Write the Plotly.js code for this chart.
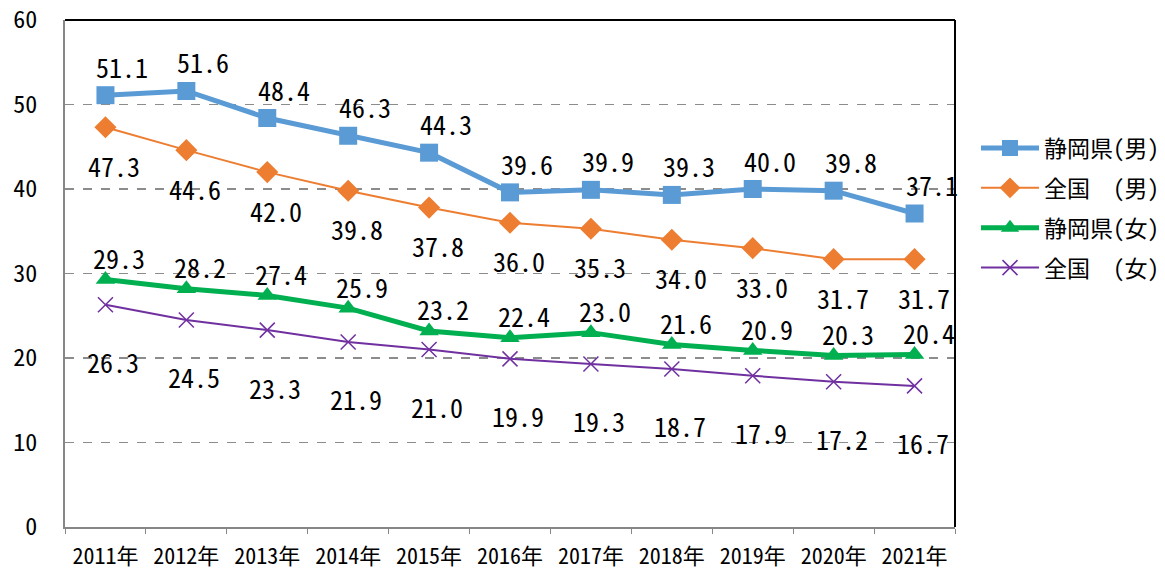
<!DOCTYPE html>
<html>
<head>
<meta charset="utf-8">
<script src="https://cdn.plot.ly/plotly-3.0.1.min.js"></script>
<style>html,body{margin:0;padding:0;background:#fff;}#chart{width:1165px;height:571px;}</style>
</head>
<body>
<div id="chart"></div>
<script>
const years = ["2011年","2012年","2013年","2014年","2015年","2016年","2017年","2018年","2019年","2020年","2021年"];
const shizuokaMale = [51.1, 51.6, 48.4, 46.3, 44.3, 39.6, 39.9, 39.3, 40.0, 39.8, 37.1];
const nationalMale = [47.3, 44.6, 42.0, 39.8, 37.8, 36.0, 35.3, 34.0, 33.0, 31.7, 31.7];
const shizuokaFemale = [29.3, 28.2, 27.4, 25.9, 23.2, 22.4, 23.0, 21.6, 20.9, 20.3, 20.4];
const nationalFemale = [26.3, 24.5, 23.3, 21.9, 21.0, 19.9, 19.3, 18.7, 17.9, 17.2, 16.7];
const seriesNames = ["静岡県(男)", "全国　(男)", "静岡県(女)", "全国　(女)"];
const yTicks = [0, 10, 20, 30, 40, 50, 60];

const MONO = "'Noto Sans Mono CJK JP', 'Noto Sans CJK JP', 'Liberation Mono', monospace";

const series = [
  {y: shizuokaMale,   name: seriesNames[0], color: '#5B9BD5', width: 5, symbol: 'square',      size: 18, dx: 17, dy: 29},
  {y: nationalMale,   name: seriesNames[1], color: '#ED7D31', width: 2, symbol: 'diamond',     size: 17, dx: 9,  dy: -38},
  {y: shizuokaFemale, name: seriesNames[2], color: '#00B050', width: 5, symbol: 'triangle-up', size: 17, dx: 14, dy: 22},
  {y: nationalFemale, name: seriesNames[3], color: '#7030A0', width: 2, symbol: 'x-thin-open', size: 15, dx: 8,  dy: -57}
];

const traces = series.map((s, i) => ({
  x: years, y: s.y, name: s.name, type: 'scatter', mode: 'lines+markers',
  legendgroup: 'g' + i,
  line: {color: s.color, width: s.width},
  marker: {symbol: s.symbol, size: s.size, color: s.color, line: {width: s.symbol === 'x-thin-open' ? 1.5 : 0, color: s.color}}
}));

const annotations = [];
series.forEach(s => {
  s.y.forEach((v, j) => {
    annotations.push({
      x: years[j], y: v, xref: 'x', yref: 'y', text: v.toFixed(1), showarrow: false,
      xanchor: 'center', yanchor: 'middle', xshift: s.dx, yshift: s.dy,
      font: {family: MONO, size: 26, color: '#000'}
    });
  });
});

const layout = {
  width: 1165, height: 571,
  margin: {l: 65, r: 210, t: 20, b: 44, autoexpand: false},
  paper_bgcolor: '#fff', plot_bgcolor: '#fff',
  font: {family: MONO, size: 21, color: '#000'},
  showlegend: true,
  legend: {x: 1.0236, y: 0.79, xanchor: 'left', yanchor: 'top', font: {size: 23, family: MONO},
           itemwidth: 58, tracegroupgap: 7, bgcolor: 'rgba(0,0,0,0)'},
  xaxis: {type: 'category', range: [-0.5, 10.5], tickson: 'boundaries', ticks: 'outside', ticklen: 5,
          tickcolor: '#868686', showline: true, linecolor: '#868686', linewidth: 2, showgrid: false,
          zeroline: false, tickfont: {size: 22, family: MONO}, ticklabelstandoff: 9, fixedrange: true},
  yaxis: {range: [0, 60], tickvals: yTicks, ticktext: yTicks.map(String), showline: true, linecolor: '#868686', linewidth: 2,
          showgrid: true, gridcolor: '#8c8c8c', griddash: 'dash', gridwidth: 1.5, zeroline: false,
          ticks: '', ticklabelstandoff: 21, tickfont: {size: 24, family: MONO}, fixedrange: true},
  annotations: annotations,
  shapes: [
    {type: 'line', xref: 'paper', yref: 'paper', x0: 0, x1: 1, y0: 1, y1: 1, line: {color: '#000', width: 2}},
    {type: 'line', xref: 'paper', yref: 'paper', x0: 1, x1: 1, y0: 0, y1: 1, line: {color: '#000', width: 2}}
  ]
};

Plotly.newPlot('chart', traces, layout, {displayModeBar: false, staticPlot: true});
</script>
</body>
</html>
